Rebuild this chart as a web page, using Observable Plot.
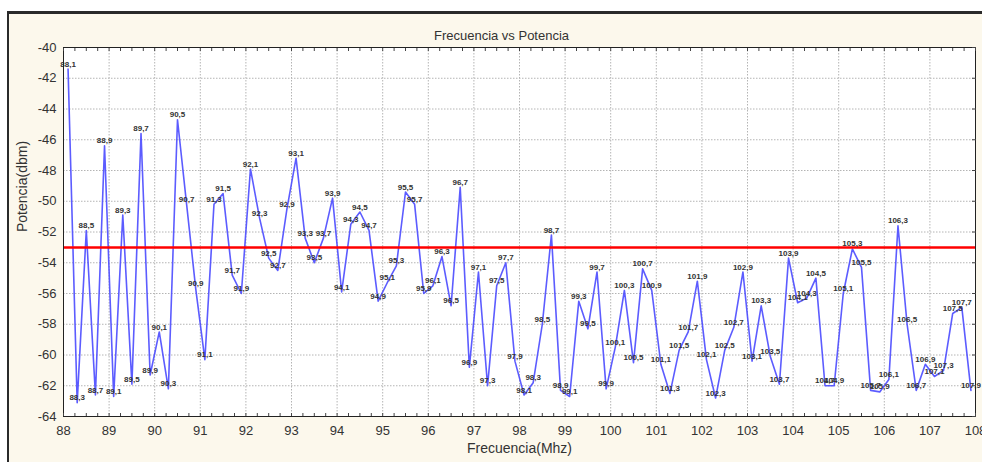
<!DOCTYPE html>
<html>
<head>
<meta charset="utf-8">
<script src="https://cdn.jsdelivr.net/npm/d3@7"></script>
<script src="https://cdn.jsdelivr.net/npm/@observablehq/plot@0.6"></script>
<style>
  html, body { margin: 0; padding: 0; background: #ffffff; }
  #frame {
    position: absolute; left: 7px; top: 11px;
    width: 973px; height: 448px;
    border-left: 2px solid #2a2a2a; border-top: 3px solid #2a2a2a;
    background: #fcf8ec;
  }
  #frame svg { display: block; }
</style>
</head>
<body>
<div id="frame"></div>
<script>
const title = "Frecuencia vs Potencia";
const xLabel = "Frecuencia(Mhz)";
const yLabel = "Potencia(dbm)";

const frecuencias = [
  88.1, 88.3, 88.5, 88.7, 88.9, 89.1, 89.3, 89.5, 89.7, 89.9,
  90.1, 90.3, 90.5, 90.7, 90.9, 91.1, 91.3, 91.5, 91.7, 91.9,
  92.1, 92.3, 92.5, 92.7, 92.9, 93.1, 93.3, 93.5, 93.7, 93.9,
  94.1, 94.3, 94.5, 94.7, 94.9, 95.1, 95.3, 95.5, 95.7, 95.9,
  96.1, 96.3, 96.5, 96.7, 96.9, 97.1, 97.3, 97.5, 97.7, 97.9,
  98.1, 98.3, 98.5, 98.7, 98.9, 99.1, 99.3, 99.5, 99.7, 99.9,
  100.1, 100.3, 100.5, 100.7, 100.9, 101.1, 101.3, 101.5, 101.7, 101.9,
  102.1, 102.3, 102.5, 102.7, 102.9, 103.1, 103.3, 103.5, 103.7, 103.9,
  104.1, 104.3, 104.5, 104.7, 104.9, 105.1, 105.3, 105.5, 105.7, 105.9,
  106.1, 106.3, 106.5, 106.7, 106.9, 107.1, 107.3, 107.5, 107.7, 107.9
];

const potencias = [
  -41.4, -63.1, -51.9, -62.6, -46.4, -62.7, -50.9, -61.9, -45.6, -61.3,
  -58.5, -62.2, -44.7, -50.2, -55.7, -60.3, -50.2, -49.5, -54.8, -56.0,
  -47.9, -51.1, -53.7, -54.5, -50.5, -47.2, -52.4, -54.0, -52.4, -49.8,
  -55.9, -51.5, -50.7, -51.9, -56.5, -55.3, -54.2, -49.4, -50.2, -56.0,
  -55.5, -53.6, -56.8, -49.1, -60.8, -54.6, -62.0, -55.5, -54.0, -60.4,
  -62.6, -61.8, -58.0, -52.2, -62.3, -62.7, -56.5, -58.3, -54.6, -62.2,
  -59.5, -55.8, -60.5, -54.4, -55.8, -60.6, -62.5, -59.7, -58.5, -55.2,
  -60.3, -62.8, -59.7, -58.2, -54.6, -60.4, -56.8, -60.1, -61.9, -53.7,
  -56.6, -56.3, -55.0, -62.0, -62.0, -56.0, -53.1, -54.3, -62.3, -62.4,
  -61.6, -51.6, -58.0, -62.3, -60.6, -61.4, -61.0, -57.3, -56.9, -62.3
];

const umbral = [-53];

const xTicks = [88, 89, 90, 91, 92, 93, 94, 95, 96, 97, 98, 99, 100, 101, 102, 103, 104, 105, 106, 107, 108];
const yTicks = [-40, -42, -44, -46, -48, -50, -52, -54, -56, -58, -60, -62, -64];
const xMinorTicks = d3.range(88, 108.001, 0.25);

const data = frecuencias.map((f, i) => ({
  f, p: potencias[i], label: String(f).replace(".", ",")
}));

const chart = Plot.plot({
  width: 973,
  height: 448,
  marginLeft: 54,
  marginRight: 7,
  marginTop: 33,
  marginBottom: 46,
  style: {
    background: "transparent",
    fontFamily: "'Liberation Sans', Arial, sans-serif",
    fontSize: "13px",
    color: "#333"
  },
  x: { domain: [88, 108] },
  y: { domain: [-64, -40] },
  marks: [
    Plot.frame({ fill: "white" }),
    Plot.gridX(xTicks, { stroke: "#b4b4b4", strokeOpacity: 1, strokeDasharray: "1.5,1.5" }),
    Plot.gridY(yTicks, { stroke: "#b4b4b4", strokeOpacity: 1, strokeDasharray: "1.5,1.5" }),
    Plot.line(data, { x: "f", y: "p", stroke: "#4a4aff", strokeWidth: 1.6, strokeOpacity: 0.9 }),
    Plot.ruleY(umbral, { stroke: "#ff0000", strokeWidth: 2.5 }),
    Plot.text(data, {
      x: "f", y: "p", text: "label", dy: -5,
      fontSize: 8, fontWeight: "bold", fill: "#333",
      fontFamily: "'Liberation Sans Narrow', 'Liberation Sans', Arial, sans-serif"
    }),
    Plot.frame({ stroke: "#222", strokeWidth: 1 }),
    Plot.axisX({ ticks: xTicks, tickSize: 0, tickPadding: 9, label: null, fontSize: 13, tickFormat: d => String(d) }),
    Plot.axisY({ ticks: yTicks, tickSize: 0, tickPadding: 7, label: null, fontSize: 13, tickFormat: d => String(d) }),
    Plot.axisX({ anchor: "top", ticks: xMinorTicks, tickSize: -3, tickFormat: () => "", label: null, stroke: "#444" }),
    Plot.axisX({ anchor: "bottom", ticks: xMinorTicks, tickSize: -3, tickFormat: () => "", label: null, stroke: "#444" }),
    Plot.axisY({ anchor: "right", ticks: yTicks, tickSize: -4, tickFormat: () => "", label: null, stroke: "#444" }),
    Plot.text([title], { frameAnchor: "top", dy: -17, dx: -18, fontSize: 13, fill: "#333" }),
    Plot.text([xLabel], { frameAnchor: "bottom", dy: 36, fontSize: 14, fill: "#333" }),
    Plot.text([yLabel], { frameAnchor: "left", dx: -41, rotate: -90, fontSize: 14, fill: "#333" })
  ]
});

document.getElementById("frame").appendChild(chart);
</script>
</body>
</html>
